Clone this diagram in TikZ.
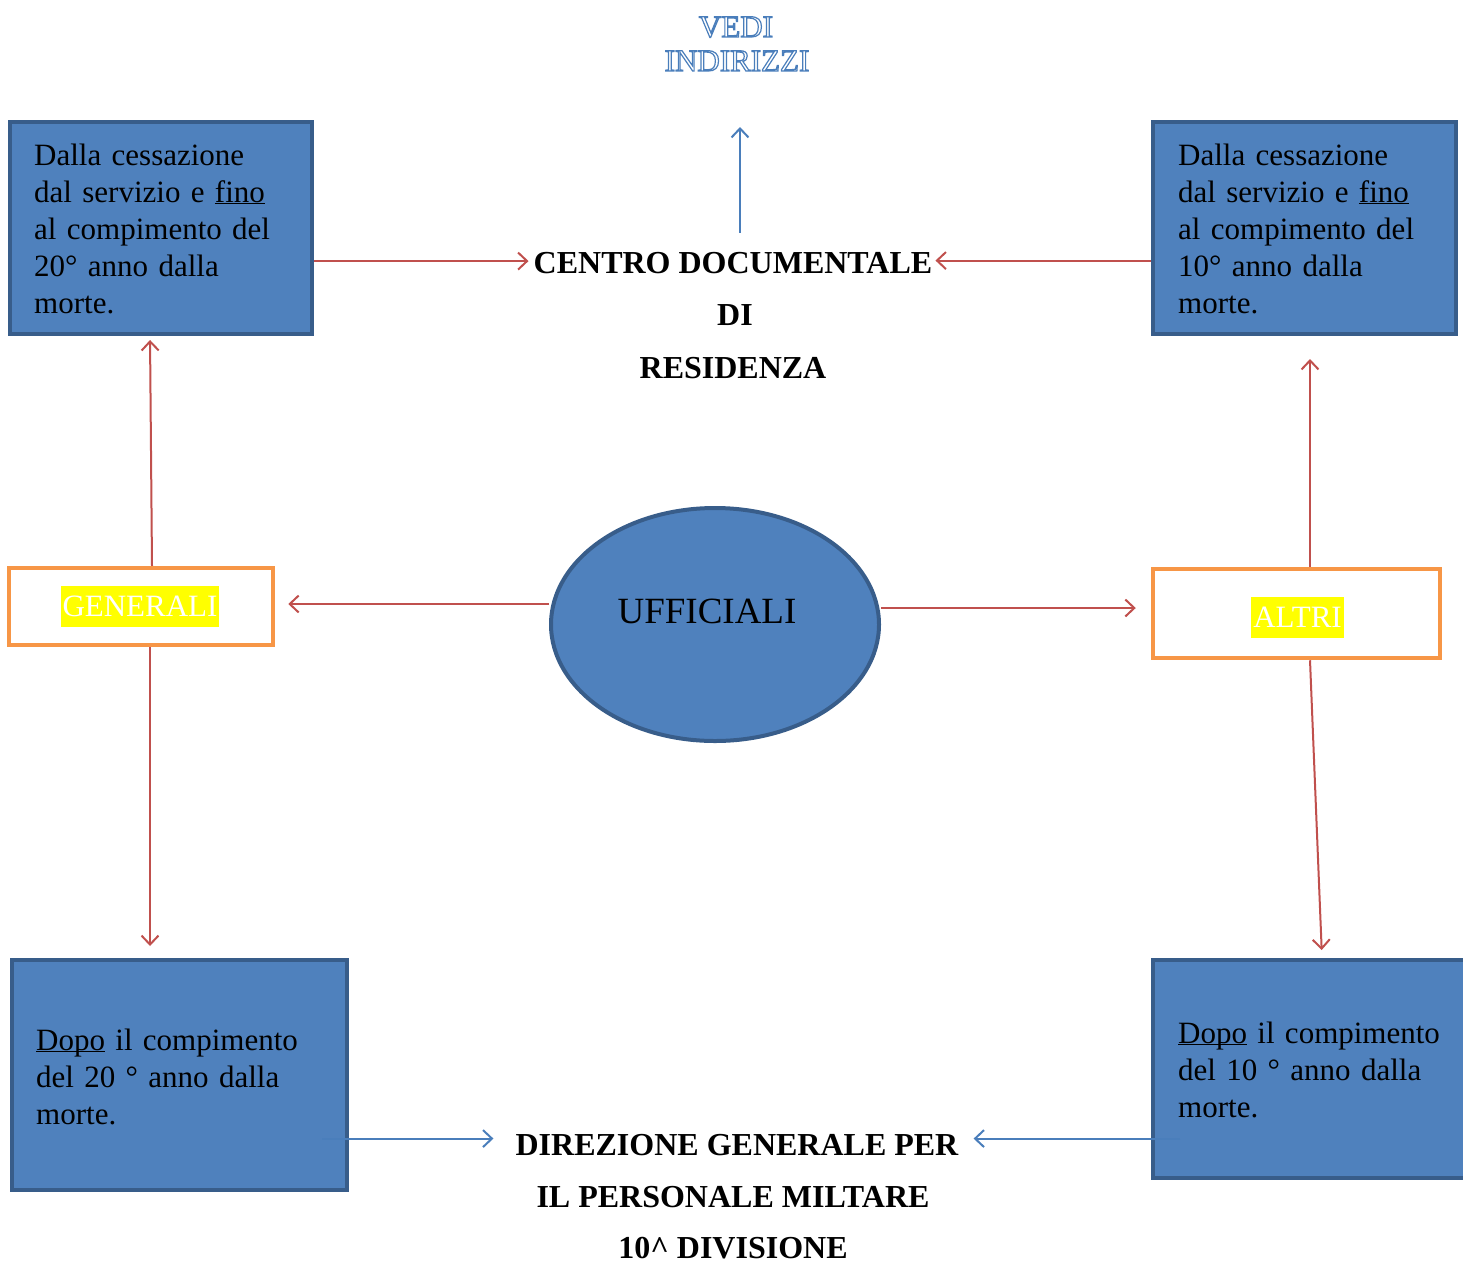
\documentclass[tikz,border=0pt]{standalone}
\usepackage{fontspec}
\setmainfont{Liberation Serif}
\usetikzlibrary{shapes.geometric, arrows.meta, positioning}
\definecolor{boxblue}{HTML}{4F81BD}
\definecolor{boxborder}{HTML}{385D8A}
\definecolor{boxorange}{HTML}{F79646}
\definecolor{arrowred}{HTML}{C0504D}
\definecolor{arrowblue}{HTML}{4A7EBB}
\definecolor{hlyellow}{HTML}{FFFF00}

% outlined letters (stroke only) and underline without descender
\newcommand{\contorno}[1]{\special{pdf:literal direct 1 Tr 1.2 w}#1\special{pdf:literal direct 0 Tr}}
\newcommand{\sottolinea}[1]{\underline{\smash{#1}}}

\tikzset{
  bluebox/.style={rectangle, draw=boxborder, fill=boxblue, line width=4pt, inner sep=0pt},
  orangebox/.style={rectangle, draw=boxorange, fill=white, line width=4.5pt, inner sep=0pt},
  boxtext/.style={anchor=base west, inner sep=0pt, text width=300pt, align=left, font=\fontsize{31}{37}\selectfont},
  titolo/.style={anchor=base, inner sep=2pt, font=\bfseries\fontsize{32}{37}\selectfont},
  evidenzia/.style={fill=hlyellow, text=white, inner xsep=2pt, inner ysep=0pt, minimum height=41pt, font=\fontsize{31}{37}\selectfont},
  frecciarossa/.style={->, draw=arrowred, line width=2pt},
  frecciablu/.style={->, draw=arrowblue, line width=2pt}
}

\begin{document}
\begin{tikzpicture}[x=1pt, y=-1pt, >={Straight Barb[length=9pt,width=17pt]}]
\useasboundingbox (0,0) rectangle (1463,1264);

% boxes
\node[bluebox, minimum width=302pt, minimum height=212pt] (tl) at (161,228) {};
\node[bluebox, minimum width=303pt, minimum height=212pt] (tr) at (1304.5,228) {};
\node[bluebox, minimum width=335pt, minimum height=230pt] (bl) at (179.5,1075) {};
\node[bluebox, minimum width=330pt, minimum height=218pt] (br) at (1318,1069) {};
\node[ellipse, draw=boxborder, fill=boxblue, line width=4pt, inner sep=0pt, minimum width=328pt, minimum height=233pt] (uff) at (715,624.5) {};
\node[orangebox, minimum width=264pt, minimum height=77pt] (gen) at (141,606.5) {};
\node[orangebox, minimum width=287pt, minimum height=89pt] (altri) at (1296.5,613.5) {};

% texts
\node[boxtext] (tltext) at (34,165) {Dalla cessazione\\dal servizio e \sottolinea{fino}\\al compimento del\\20° anno dalla\\morte.};
\node[boxtext] (trtext) at (1178,165) {Dalla cessazione\\dal servizio e \sottolinea{fino}\\al compimento del\\10° anno dalla\\morte.};
\node[boxtext] (bltext) at (36,1050) {\sottolinea{Dopo} il compimento\\del 20 ° anno dalla\\morte.};
\node[boxtext] (brtext) at (1178,1043) {\sottolinea{Dopo} il compimento\\del 10 ° anno dalla\\morte.};
\node[anchor=base, inner sep=0pt, font=\fontsize{37}{40}\selectfont] (ufftext) at (707,623) {UFFICIALI};
\node[evidenzia] (gentext) at (140,606.5) {GENERALI};
\node[evidenzia] (altritext) at (1297.5,617) {ALTRI};

\node[titolo] (centro1) at (733,273) {CENTRO DOCUMENTALE};
\node[titolo] (centro2) at (735,325) {DI};
\node[titolo] (centro3) at (733,378) {RESIDENZA};
\node[titolo] (dir1) at (737,1155) {DIREZIONE GENERALE PER};
\node[titolo] (dir2) at (733,1207) {IL PERSONALE MILTARE};
\node[titolo] (dir3) at (733,1258) {10\textasciicircum{} DIVISIONE};

\node[anchor=base, inner sep=2pt, text=arrowblue, font=\fontsize{31}{34}\selectfont] (vedi1) at (736,37) {\contorno{VEDI}};
\node[anchor=base, inner sep=2pt, text=arrowblue, font=\fontsize{31}{34}\selectfont] (vedi2) at (737,71) {\contorno{INDIRIZZI}};
\coordinate (vedipunta) at (740,127);

% arrows
\draw[frecciablu, shorten <=17pt] (centro1.north -| vedipunta) -- (vedipunta);
\draw[frecciarossa, shorten >=3pt] ([yshift=1.5pt]tl.east |- centro1.west) -- ([yshift=1.5pt]centro1.west);
\draw[frecciarossa, shorten >=1pt] ([yshift=2pt]tr.west |- centro1.east) -- ([yshift=2pt]centro1.east);
\draw[frecciarossa, shorten >=4pt] ([xshift=11pt]gen.north) -- ([xshift=-11pt]tl.south);
\draw[frecciarossa, shorten >=12pt] ([xshift=9pt]gen.south) -- ([xshift=-29.5pt]bl.north);
\draw[frecciarossa, shorten >=13pt] ([yshift=20.5pt]uff.west) -- ([yshift=20.5pt]uff.west -| gen.east);
\draw[frecciarossa, shorten >=15pt] ([yshift=16.5pt]uff.east) -- ([yshift=16.5pt]uff.east -| altri.west);
\draw[frecciarossa, shorten >=23pt] ([xshift=13.5pt]altri.north) -- ([xshift=5.5pt]tr.south);
\draw[frecciarossa, shorten >=8pt] ([xshift=13.5pt]altri.south) -- ([xshift=4pt]br.north);
\draw[frecciablu, shorten >=20pt] ([yshift=6pt]bl.east |- dir1.west) ++(-27,0) -- ([yshift=6pt]dir1.west);
\draw[frecciablu, shorten >=13pt] ([yshift=6pt]br.west |- dir1.east) ++(29,0) -- ([yshift=6pt]dir1.east);
\end{tikzpicture}
\end{document}
